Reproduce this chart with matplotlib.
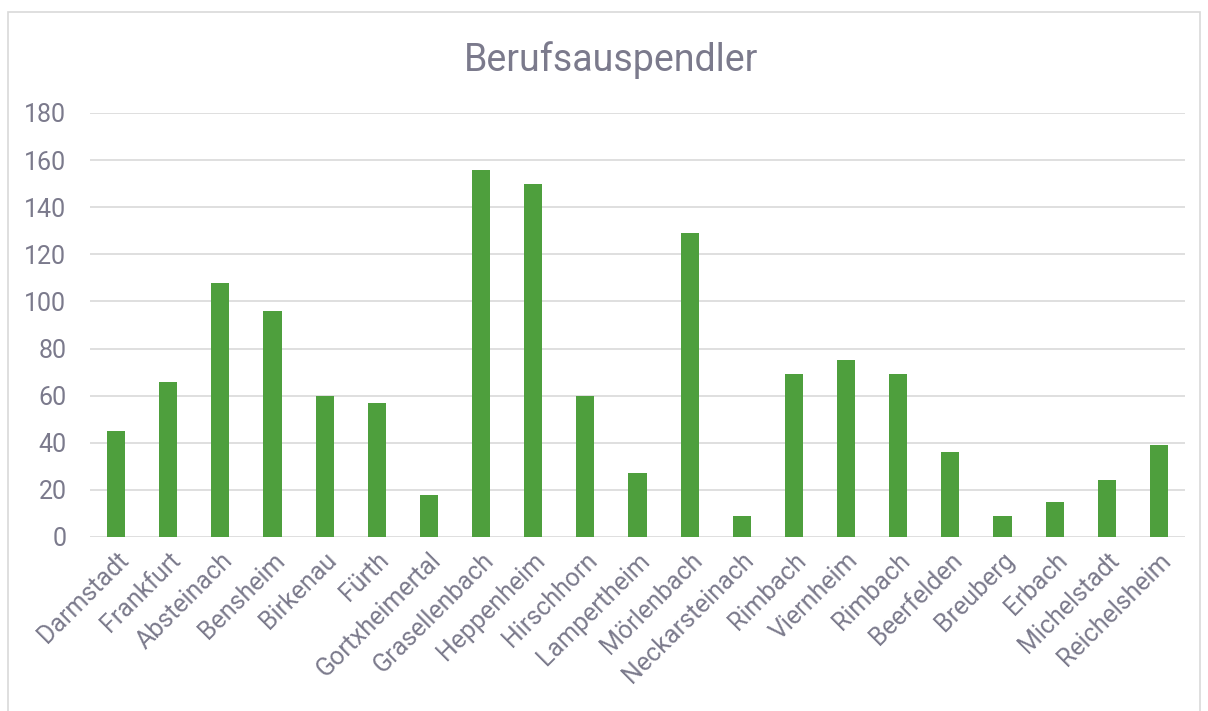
import matplotlib.pyplot as plt
from matplotlib.patches import Rectangle

orte = ["Darmstadt", "Frankfurt", "Absteinach", "Bensheim", "Birkenau", "Fürth",
        "Gortxheimertal", "Grasellenbach", "Heppenheim", "Hirschhorn", "Lampertheim",
        "Mörlenbach", "Neckarsteinach", "Rimbach", "Viernheim", "Rimbach",
        "Beerfelden", "Breuberg", "Erbach", "Michelstadt", "Reichelsheim"]
pendler = [45, 66, 108, 96, 60, 57, 18, 156, 150, 60, 27, 129, 9, 69, 75, 69,
           36, 9, 15, 24, 39]
y_ticks = [0, 20, 40, 60, 80, 100, 120, 140, 160, 180]

text_col = "#7b7a8c"
bar_col = "#4e9f3d"

plt.rcParams['font.family'] = ['Roboto', 'DejaVu Sans']

fig = plt.figure(figsize=(12.08, 7.11), dpi=100)
ax = fig.add_axes([90 / 1208, 1 - 537 / 711, (1185 - 90) / 1208, (537 - 113) / 711])

# light frame round the chart
fig.patches.append(Rectangle((8 / 1208, -0.01), 1192 / 1208, 1 - 12 / 711 + 0.01,
                             transform=fig.transFigure, fill=False,
                             edgecolor="#d9d9d9", linewidth=1.2))

x = list(range(len(orte)))
ax.bar(x, pendler, width=0.35, color=bar_col, zorder=3)

ax.set_xlim(-0.5, len(orte) - 0.5)
ax.set_ylim(0, 180)
ax.set_yticks(y_ticks)
ax.set_xticks(x)
ax.set_xticklabels(orte, rotation=45, ha="right", rotation_mode="anchor")
ax.tick_params(axis="both", length=0, labelsize=18, colors=text_col)
ax.tick_params(axis="y", pad=17)
ax.tick_params(axis="x", pad=8)
ax.grid(axis="y", color="#d9d9d9", linewidth=1.2, zorder=0)
for s in ax.spines.values():
    s.set_visible(False)

fig.text(611 / 1208, 1 - 60 / 711, "Berufsauspendler", ha="center", va="center",
         fontsize=27, color=text_col)

plt.savefig("out.png", dpi=100)
